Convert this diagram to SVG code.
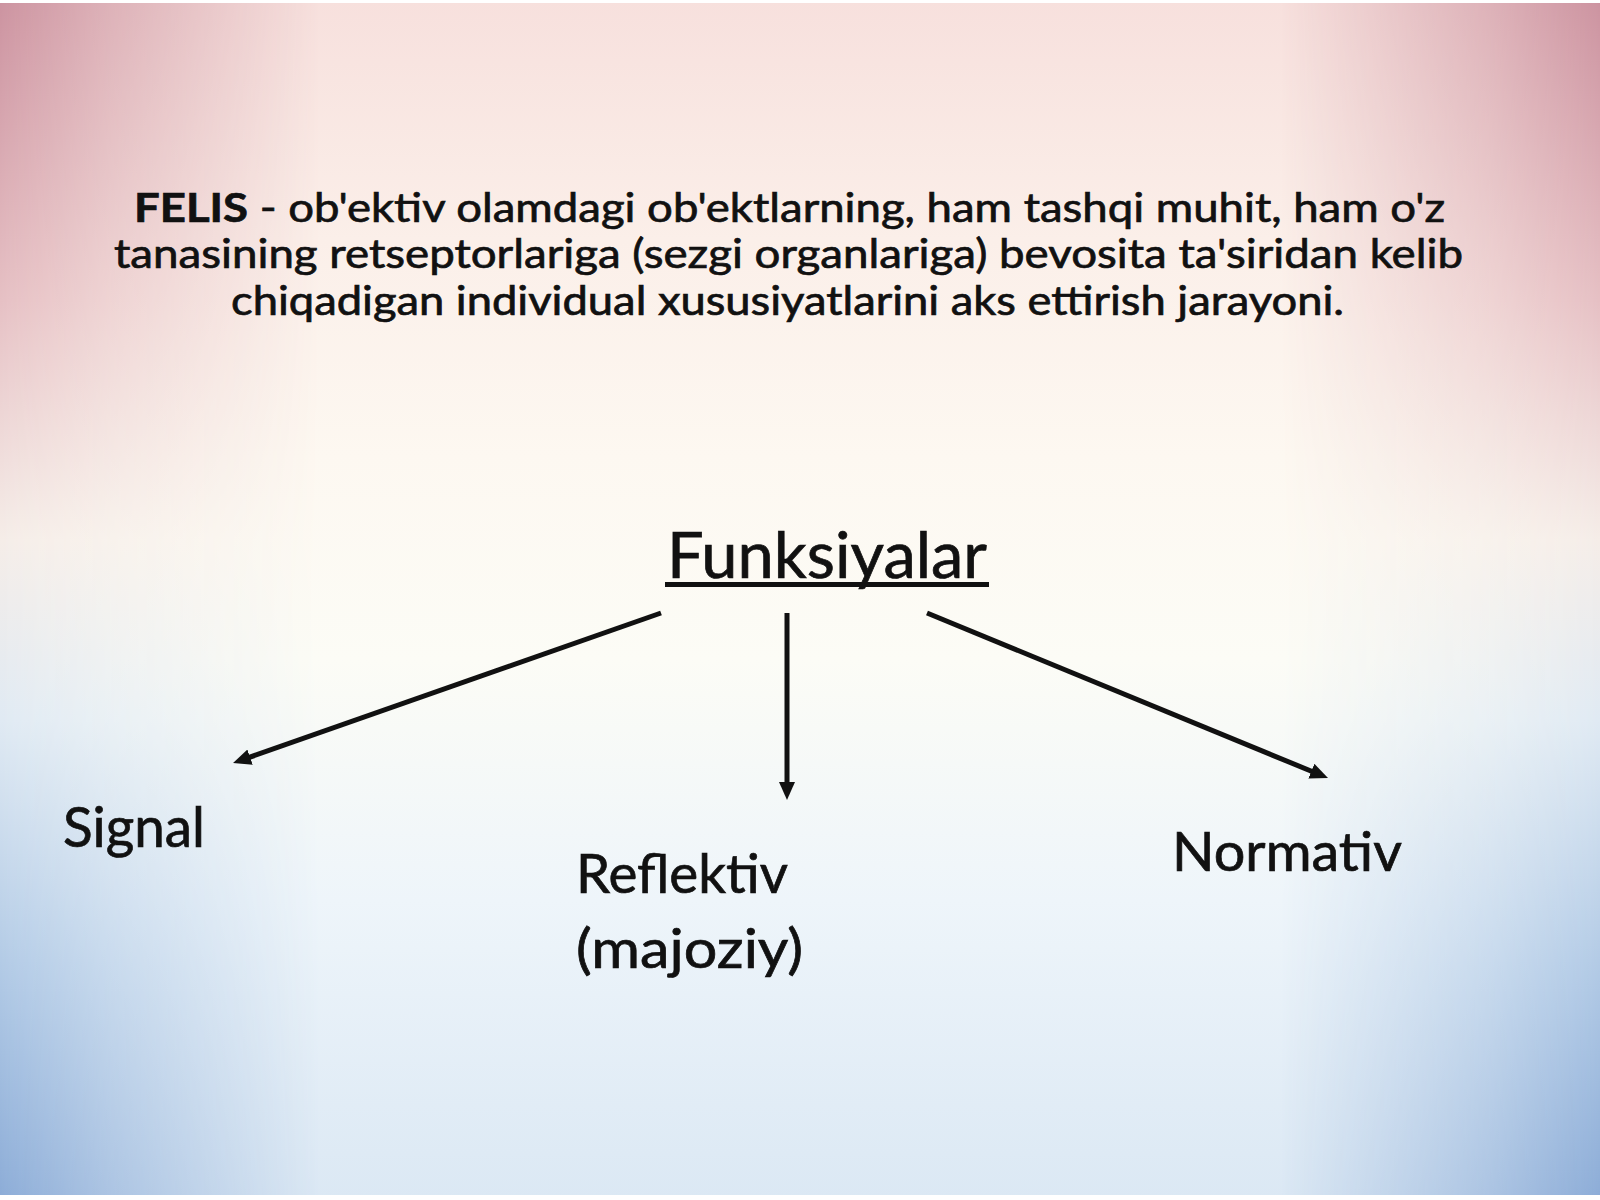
<svg xmlns="http://www.w3.org/2000/svg" width="1600" height="1200" viewBox="0 0 1600 1200">
  <style>
    .t { font-family: Lato, "Open Sans", "Liberation Sans", sans-serif; fill: #111; stroke: #111; stroke-width: 0.7; }
    .conn { stroke: #111; stroke-width: 5; fill: none; marker-end: url(#arrow); }
  </style>
  <defs>
    <linearGradient id="bgMid" x1="0" y1="0" x2="0" y2="1">
      <stop offset="0" stop-color="#f7e0dd"/>
      <stop offset="0.2" stop-color="#fbefe9"/>
      <stop offset="0.38" stop-color="#fdf8f1"/>
      <stop offset="0.55" stop-color="#fcfcf6"/>
      <stop offset="0.75" stop-color="#eef5fa"/>
      <stop offset="1" stop-color="#dbe8f4"/>
    </linearGradient>
    <linearGradient id="bgEdge" x1="0" y1="0" x2="0" y2="1">
      <stop offset="0" stop-color="#cc93a0"/>
      <stop offset="0.25" stop-color="#e6c0c4"/>
      <stop offset="0.45" stop-color="#f5ede8"/>
      <stop offset="0.6" stop-color="#e0eaf3"/>
      <stop offset="0.8" stop-color="#b3cbe6"/>
      <stop offset="1" stop-color="#8cacd7"/>
    </linearGradient>
    <linearGradient id="edgeMaskGrad" x1="0" y1="0" x2="1" y2="0">
      <stop offset="0" stop-color="#fff" stop-opacity="1"/>
      <stop offset="0.07" stop-color="#fff" stop-opacity="0.6"/>
      <stop offset="0.2" stop-color="#fff" stop-opacity="0"/>
      <stop offset="0.8" stop-color="#fff" stop-opacity="0"/>
      <stop offset="0.93" stop-color="#fff" stop-opacity="0.6"/>
      <stop offset="1" stop-color="#fff" stop-opacity="1"/>
    </linearGradient>
    <mask id="edgeMask">
      <rect x="0" y="0" width="1600" height="1200" fill="url(#edgeMaskGrad)"/>
    </mask>
    <marker id="arrow" markerUnits="userSpaceOnUse" markerWidth="18" markerHeight="16" viewBox="0 0 18 16" refX="10" refY="8" orient="auto">
      <path d="M0,0 L18,8 L0,16 Z" fill="#111"/>
    </marker>
  </defs>

  <g id="background">
    <rect x="0" y="0" width="1600" height="1200" fill="url(#bgMid)"/>
    <rect x="0" y="0" width="1600" height="1200" fill="url(#bgEdge)" mask="url(#edgeMask)"/>
    <rect x="0" y="0" width="1600" height="3" fill="#ffffff"/>
    <rect x="0" y="1195" width="1600" height="5" fill="#ffffff"/>
  </g>

  <g id="definition">
    <text class="t" x="134" y="222" font-size="40" textLength="1311" lengthAdjust="spacingAndGlyphs"><tspan font-weight="bold">FELIS</tspan> - ob'ektiv olamdagi ob'ektlarning, ham tashqi muhit, ham o'z</text>
    <text class="t" x="114" y="268" font-size="40" textLength="1349" lengthAdjust="spacingAndGlyphs">tanasining retseptorlariga (sezgi organlariga) bevosita ta'siridan kelib</text>
    <text class="t" x="231" y="315" font-size="40" textLength="1113" lengthAdjust="spacingAndGlyphs">chiqadigan individual xususiyatlarini aks ettirish jarayoni.</text>
  </g>

  <g id="node-funksiyalar">
    <text class="t" x="667" y="578" font-size="63" textLength="320" lengthAdjust="spacingAndGlyphs">Funksiyalar</text>
    <rect x="665" y="582" width="324" height="5" fill="#111"/>
  </g>

  <g id="connectors">
    <line class="conn" x1="661" y1="613" x2="240.6" y2="760.4"/>
    <line class="conn" x1="787" y1="613" x2="787" y2="792"/>
    <line class="conn" x1="927" y1="613" x2="1320.6" y2="775"/>
  </g>

  <g id="node-signal">
    <text class="t" x="63" y="847" font-size="56" textLength="142" lengthAdjust="spacingAndGlyphs">Signal</text>
  </g>

  <g id="node-reflektiv">
    <text class="t" x="576" y="893" font-size="54" textLength="212" lengthAdjust="spacingAndGlyphs">Reflektiv</text>
    <text class="t" x="576" y="968" font-size="54" textLength="227" lengthAdjust="spacingAndGlyphs">(majoziy)</text>
  </g>

  <g id="node-normativ">
    <text class="t" x="1172" y="871" font-size="55" textLength="230" lengthAdjust="spacingAndGlyphs">Normativ</text>
  </g>
</svg>
